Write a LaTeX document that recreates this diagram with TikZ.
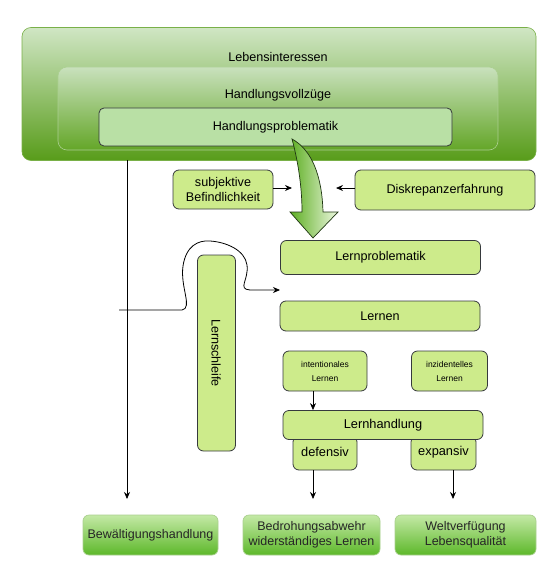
\documentclass[tikz,border=0pt]{standalone}
\usepackage{fontspec}
\setmainfont{Liberation Sans}
\usetikzlibrary{arrows.meta}
\definecolor{boxg}{HTML}{CDEB8B}
\definecolor{boxline}{HTML}{36393D}
\definecolor{probfill}{HTML}{B9E0A5}
\definecolor{outtop}{HTML}{D0E6C4}
\definecolor{outbot}{HTML}{589C1A}
\definecolor{intop}{HTML}{C9E1BD}
\definecolor{inbot}{HTML}{64A628}
\definecolor{btop}{HTML}{C4E9A6}
\definecolor{bbot}{HTML}{5DB82A}
\definecolor{bline}{HTML}{A9CF8E}
\definecolor{arrL}{HTML}{5DAE22}
\definecolor{arrR}{HTML}{EDF8E0}
\definecolor{arrline}{HTML}{1F3612}
\begin{document}
\begin{tikzpicture}[x=1pt,y=-1pt,
  lbl/.style={font=\fontsize{12.6}{14.5}\selectfont},
  gbox/.style={draw=boxline, line width=0.8pt, fill=boxg, rounded corners=6pt, inner sep=0pt, align=center, lbl},
  smallbox/.style={gbox, font=\fontsize{8.5}{14}\selectfont},
  endbox/.style={draw=bline, line width=0.7pt, top color=btop, bottom color=bbot, rounded corners=6pt, inner sep=0pt, align=center, font=\fontsize{12.5}{15}\selectfont, text=black!85},
  conn/.style={line width=0.8pt, -{Stealth[length=7pt,width=6pt]}}
]
\useasboundingbox (0,0) rectangle (557,580);

% outer containers
\node[draw=outbot!80, line width=0.6pt, top color=outtop, bottom color=outbot, rounded corners=9pt,
      minimum width=514pt, minimum height=133pt, inner sep=0pt] (outer) at (279,94) {};
\node[lbl] (lebtxt) at (278,57) {Lebensinteressen};
\node[draw=intop!70!inbot, line width=0.6pt, top color=intop, bottom color=inbot, rounded corners=9pt,
      minimum width=440pt, minimum height=83pt, inner sep=0pt] (inner) at (278,108.5) {};
\node[lbl] (voltxt) at (278,95) {Handlungsvollzüge};
\node[draw=boxline, line width=0.8pt, fill=probfill, rounded corners=5pt, inner sep=0pt,
      minimum width=353pt, minimum height=38pt, lbl] (prob) at (275.5,127) {Handlungsproblematik};

% big curved arrow
\path[draw=arrline, line width=0.7pt, left color=arrL, right color=arrR]
  (292,139) .. controls (299,165) and (302,190) .. (302,212)
  -- (290,212) -- (313,238) -- (338,212) -- (323,212)
  .. controls (322,176) and (312,150) .. (292,139) -- cycle;

% side boxes
\node[gbox, minimum width=100pt, minimum height=39pt] (subj) at (223,189.5) {subjektive\\Befindlichkeit};
\node[gbox, minimum width=180pt, minimum height=40pt] (disk) at (445,190) {Diskrepanzerfahrung};
\coordinate (subjend) at (292,188);
\coordinate (diskend) at (336,188);
\draw[conn] (subj.east |- subjend) -- (subjend);
\draw[conn] (disk.west |- diskend) -- (diskend);

% learning boxes
\node[gbox, minimum width=200pt, minimum height=34pt] (lprob) at (380.5,257.5) {Lernproblematik};
\node[gbox, minimum width=200pt, minimum height=30pt] (lernen) at (380,316) {Lernen};
\node[gbox, minimum width=38pt, minimum height=196pt] (schleife) at (216.5,353) {};
\node[lbl, rotate=-90] (schtxt) at (216,353) {Lernschleife};

\node[smallbox, minimum width=84pt, minimum height=40pt] (intent) at (325,371) {intentionales\\Lernen};
\node[smallbox, minimum width=76pt, minimum height=40pt] (inzid) at (449.5,371) {inzidentelles\\Lernen};

\node[gbox, minimum width=64pt, minimum height=34pt, font=\fontsize{12.5}{15}\selectfont] (def) at (325,453) {};
\node[gbox, minimum width=65pt, minimum height=34pt, font=\fontsize{12.5}{15}\selectfont] (exp) at (443.5,453) {};
\node[gbox, minimum width=200pt, minimum height=29pt, font=\fontsize{12.8}{15}\selectfont] (lhand) at (383,425) {Lernhandlung};
\node[font=\fontsize{12.8}{15}\selectfont] (deftxt) at (325,452) {defensiv};
\node[font=\fontsize{12.8}{15}\selectfont] (exptxt) at (443.5,452) {expansiv};

\coordinate (intbot) at (313,391);
\draw[conn] (intbot) -- (intbot |- lhand.north);

% end boxes
\node[endbox, minimum width=135pt, minimum height=40pt] (bew) at (150.5,535) {Bewältigungshandlung};
\node[endbox, minimum width=137pt, minimum height=40pt] (bedr) at (311.5,535) {Bedrohungsabwehr\\widerständiges Lernen};
\node[endbox, minimum width=141pt, minimum height=40pt] (welt) at (465.5,535) {Weltverfügung\\Lebensqualität};

\coordinate (vtop) at (127,160);
\coordinate (vend) at (127,499);
\draw[conn] (vtop) -- (vend);
\coordinate (dtop) at (313,470);
\coordinate (dend) at (313,499);
\draw[conn] (dtop) -- (dend);
\coordinate (etop) at (453,470);
\coordinate (eend) at (453,499);
\draw[conn] (etop) -- (eend);

% loop
\coordinate (loopstart) at (119,310);
\coordinate (loopend) at (280,290);
\draw[conn] (loopstart) -- (182,310)
  .. controls (193,308) and (180,287) .. (183,266)
  .. controls (186,246) and (198,240) .. (210,241)
  .. controls (226,242) and (245,250) .. (247,265)
  .. controls (249,280) and (237,289) .. (250,290)
  -- (loopend);
\end{tikzpicture}
\end{document}
